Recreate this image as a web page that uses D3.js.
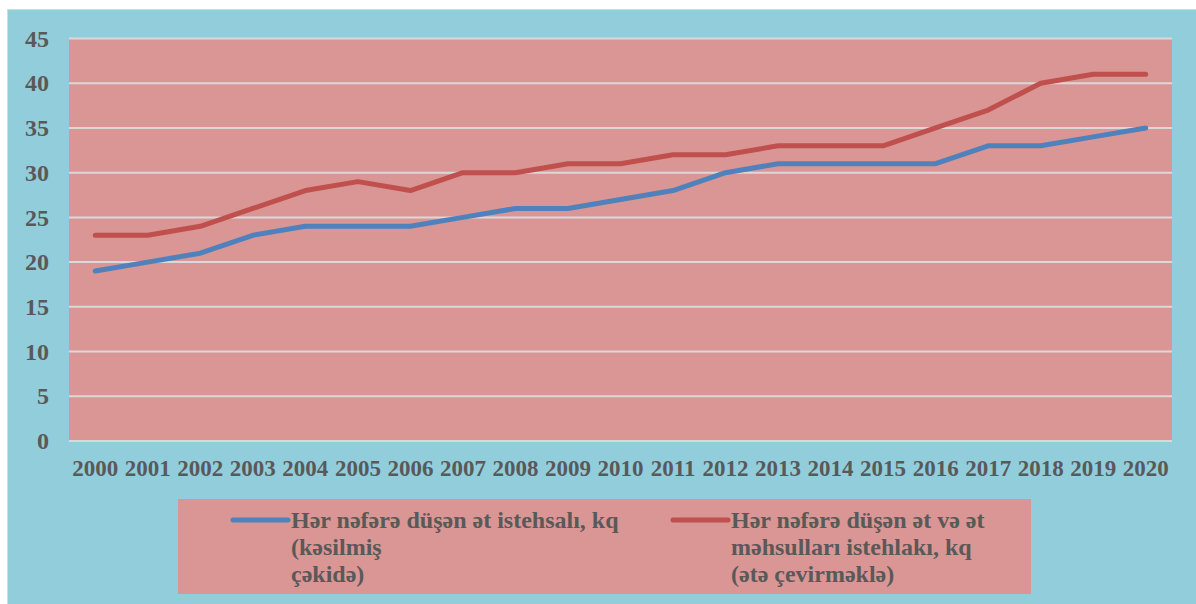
<!DOCTYPE html>
<html><head><meta charset="utf-8">
<script src="https://cdn.jsdelivr.net/npm/d3@7"></script>
<style>body{margin:0;background:#fff}svg{display:block}</style>
</head><body>
<script>
const years = ["2000","2001","2002","2003","2004","2005","2006","2007","2008","2009","2010","2011","2012","2013","2014","2015","2016","2017","2018","2019","2020"];
const production = [19,20,21,23,24,24,24,25,26,26,27,28,30,31,31,31,31,33,33,34,35];
const consumption = [23,23,24,26,28,29,28,30,30,31,31,32,32,33,33,33,35,37,40,41,41];
const yTicks = [0,5,10,15,20,25,30,35,40,45];
const legendProd = ["Hər nəfərə düşən ət istehsalı, kq","(kəsilmiş","çəkidə)"];
const legendCons = ["Hər nəfərə düşən ət və ət","məhsulları istehlakı, kq","(ətə çevirməklə)"];

const W=1196,H=604;
const svg=d3.select("body").append("svg").attr("width",W).attr("height",H);
const font="'Liberation Serif','Times New Roman',serif";
const txt="#595959";
svg.append("rect").attr("x",7.5).attr("y",9.5).attr("width",W).attr("height",H).attr("fill","#92CDDC").attr("stroke","#D9D9D9").attr("stroke-width",1);

const L=69,R=1172,T=38.5,B=441;
svg.append("rect").attr("x",L).attr("y",T).attr("width",R-L).attr("height",B-T).attr("fill","#D99694");

const x=d3.scaleBand().domain(years).range([L,R]);
const y=d3.scaleLinear().domain([0,45]).range([B,T]);

const grid=svg.append("g");
grid.selectAll("line").data(yTicks).join("line")
  .attr("x1",L).attr("x2",R).attr("y1",d=>y(d)).attr("y2",d=>y(d))
  .attr("stroke","#D9D9D9").attr("stroke-width",2);

const yAxis=svg.append("g").attr("transform",`translate(${L},0)`)
  .call(d3.axisLeft(y).tickValues(yTicks).tickSize(0).tickPadding(20));
yAxis.select(".domain").remove();
yAxis.selectAll("text").attr("font-family",font).attr("font-weight","bold").attr("font-size",24).attr("fill",txt);

const xAxis=svg.append("g").attr("transform",`translate(0,${B})`)
  .call(d3.axisBottom(x).tickSize(0).tickPadding(19));
xAxis.select(".domain").remove();
xAxis.selectAll("text").attr("font-family",font).attr("font-weight","bold").attr("font-size",23).attr("fill",txt);

const line=d3.line().x((d,i)=>x(years[i])+x.bandwidth()/2).y(d=>y(d));
svg.append("path").datum(production).attr("d",line).attr("fill","none").attr("stroke","#4F81BD").attr("stroke-width",5).attr("stroke-linecap","round").attr("stroke-linejoin","round");
svg.append("path").datum(consumption).attr("d",line).attr("fill","none").attr("stroke","#C0504D").attr("stroke-width",5).attr("stroke-linecap","round").attr("stroke-linejoin","round");

// legend
svg.append("rect").attr("x",178).attr("y",499).attr("width",853).attr("height",95).attr("fill","#D99694");
function legendItem(x0,color,lines){
  svg.append("line").attr("x1",x0).attr("x2",x0+55).attr("y1",520).attr("y2",520)
    .attr("stroke",color).attr("stroke-width",5).attr("stroke-linecap","round");
  const t=svg.append("text").attr("font-family",font).attr("font-weight","bold").attr("font-size",24).attr("fill",txt);
  lines.forEach((s,i)=>t.append("tspan").attr("x",x0+58).attr("y",528+i*27).text(s));
}
legendItem(233,"#4F81BD",legendProd);
legendItem(673,"#C0504D",legendCons);
</script>
</body></html>
